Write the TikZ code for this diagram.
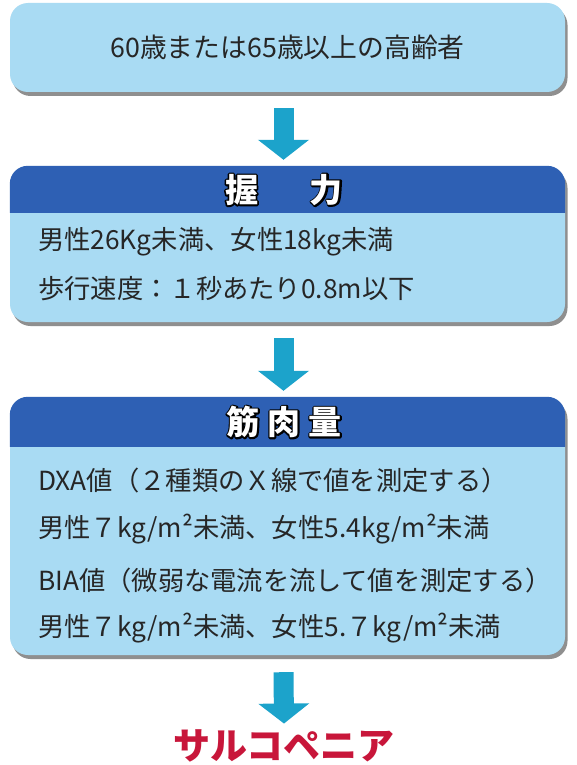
\documentclass[tikz,border=0pt]{standalone}
\usepackage{fontspec}
\setmainfont{Noto Sans CJK JP}
\usetikzlibrary{arrows.meta,shadows}
\definecolor{boxfill}{HTML}{A9DBF3}
\definecolor{hdr}{HTML}{2E60B4}
\definecolor{arr}{HTML}{1CA3CB}
\definecolor{txt}{HTML}{262626}
\definecolor{redt}{HTML}{C8163A}
\newcommand\outlinedtext[1]{%
  \rlap{\color{black}\special{pdf:literal direct 0 0 0 RG 3.2 w 1 j 2 Tr}#1\special{pdf:literal direct 0 Tr}}%
  {\color{white}#1}}
\begin{document}
\begin{tikzpicture}[x=1pt,y=-1pt,
  box/.style={rectangle, rounded corners=18pt, fill=boxfill, minimum width=555pt, inner sep=0pt,
    drop shadow={shadow xshift=2.5pt, shadow yshift=-4pt, fill=black!80, opacity=0.55}},
  body/.style={anchor=west, font=\fontsize{26.3}{30}\selectfont, text=txt, inner sep=0pt},
  titletext/.style={font=\fontsize{33}{38}\selectfont\bfseries, inner sep=0pt},
  flow/.style={draw=arr, line width=20pt, -{Triangle[width=50pt,length=20pt]}}]
\useasboundingbox (0,0) rectangle (576,765);
\fill[white] (0,0) rectangle (576,765);

% box 1
\node[box, minimum height=89pt, font=\fontsize{26.8}{30}\selectfont, text=txt] (b1) at (287.5,47.5) {60歳または65歳以上の高齢者};

% box 2
\node[box, minimum height=156pt] (b2) at (287.5,244) {};
\fill[hdr] ([yshift=-47pt]b2.north west) [rounded corners=18pt] -- (b2.north west) -- (b2.north east) [sharp corners] -- ([yshift=-47pt]b2.north east) -- cycle;
\node[titletext] (t2) at (284,190) {\outlinedtext{握\hspace{52pt}力}};
\node[body] (l21) at (38,242) {男性26Kg未満、女性18kg未満};
\node[body] (l22) at (38,289) {歩行速度：１秒あたり0.8m以下};

% box 3
\node[box, minimum height=258pt] (b3) at (287.5,526) {};
\fill[hdr] ([yshift=-50pt]b3.north west) [rounded corners=18pt] -- (b3.north west) -- (b3.north east) [sharp corners] -- ([yshift=-50pt]b3.north east) -- cycle;
\node[titletext] (t3) at (284,422) {\outlinedtext{筋\hspace{8pt}肉\hspace{8pt}量}};
\node[body] (l31) at (38,481) {DXA値（２種類のＸ線で値を測定する）};
\node[body] (l32) at (38,529) {男性７kg/m²未満、女性5.4kg/m²未満};
\node[body] (l33) at (38,580) {BIA値（微弱な電流を流して値を測定する）};
\node[body] (l34) at (38,628) {男性７kg/m²未満、女性5.７kg/m²未満};

% result
\node[font=\fontsize{37}{42}\selectfont\bfseries, text=redt, inner sep=0pt] (res) at (284,746) {サルコペニア};

% arrows
\draw[flow] ([xshift=-4pt,yshift=-16pt]b1.south) -- ([xshift=-4pt,yshift=6pt]b2.north);
\draw[flow] ([xshift=-4pt,yshift=-16pt]b2.south) -- ([xshift=-4pt,yshift=6pt]b3.north);
\draw[flow] ([xshift=-4pt,yshift=-17pt]b3.south) -- ([yshift=6pt]res.north);
\end{tikzpicture}
\end{document}
